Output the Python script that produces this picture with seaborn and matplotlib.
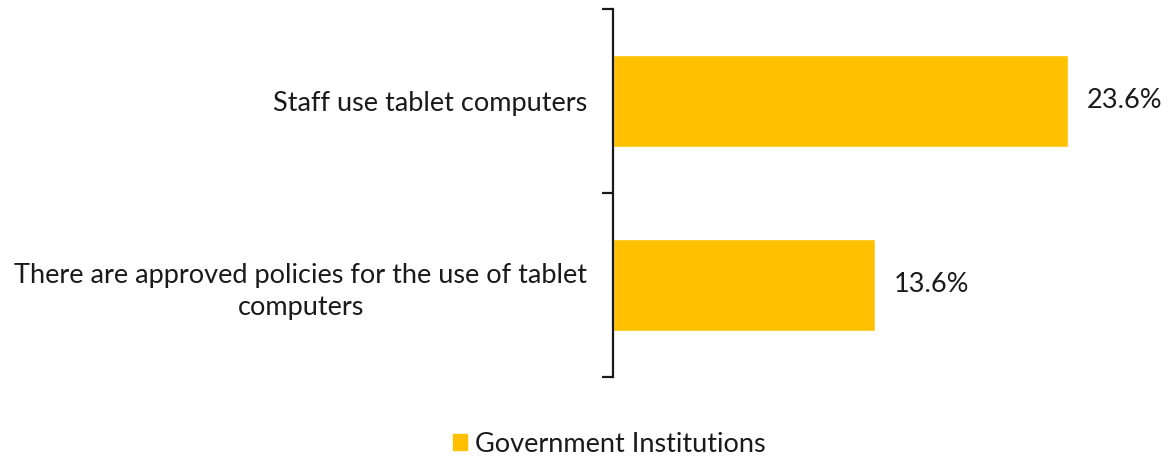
import matplotlib
matplotlib.use("Agg")
import matplotlib.pyplot as plt
import seaborn as sns
import pandas as pd

categories = ["Staff use tablet computers",
              "There are approved policies for the use of tablet\ncomputers"]
values = [23.6, 13.6]
series_name = "Government Institutions"
bar_color = "#FFC000"
text_color = "#1a1a1a"

sns.set_theme(style="white")
plt.rcParams["font.family"] = ["Lato", "DejaVu Sans"]

df = pd.DataFrame({"category": categories, "value": values})

fig = plt.figure(figsize=(11.68, 4.61), dpi=100)
ax = fig.add_axes([613 / 1168, 84 / 461, (1160 - 613) / 1168, 368 / 461])

sns.barplot(data=df, x="value", y="category", color=bar_color, width=0.5,
            saturation=1, ax=ax)

ax.set_xlim(0, (1160 - 613) / 19.28)
ax.set_ylim(1.5, -0.5)

for s in ["top", "right", "bottom"]:
    ax.spines[s].set_visible(False)
ax.spines["left"].set_color("#1a1a1a")
ax.spines["left"].set_linewidth(1.6)
ax.set_xticks([])
ax.set_xlabel("")
ax.set_ylabel("")

# category boundaries carry the tick marks, centres carry the labels
ax.set_yticks([-0.5, 0.5, 1.5])
ax.set_yticklabels(["", "", ""])
ax.tick_params(axis="y", which="major", length=8, width=1.6, color="#1a1a1a",
               left=True)
ax.set_yticks([0, 1], minor=True)
ax.set_yticklabels(categories, minor=True, fontsize=19.5, color=text_color,
                   multialignment="center", linespacing=1.4)
ax.tick_params(axis="y", which="minor", length=0, pad=18.5)

for i, v in enumerate(values):
    ax.text(v + 0.98, i, f"{v:.1f}%", va="center", ha="left", fontsize=19.5,
            color=text_color)

handle = plt.Rectangle((0, 0), 1, 1, color=bar_color)
fig.legend([handle], [series_name], loc="center", bbox_to_anchor=(609 / 1168, 17 / 461),
           frameon=False, fontsize=19.5, handlelength=0.52, handleheight=0.52,
           handletextpad=0.3, labelcolor=text_color)

fig.savefig("out.png", dpi=100, facecolor="white")
